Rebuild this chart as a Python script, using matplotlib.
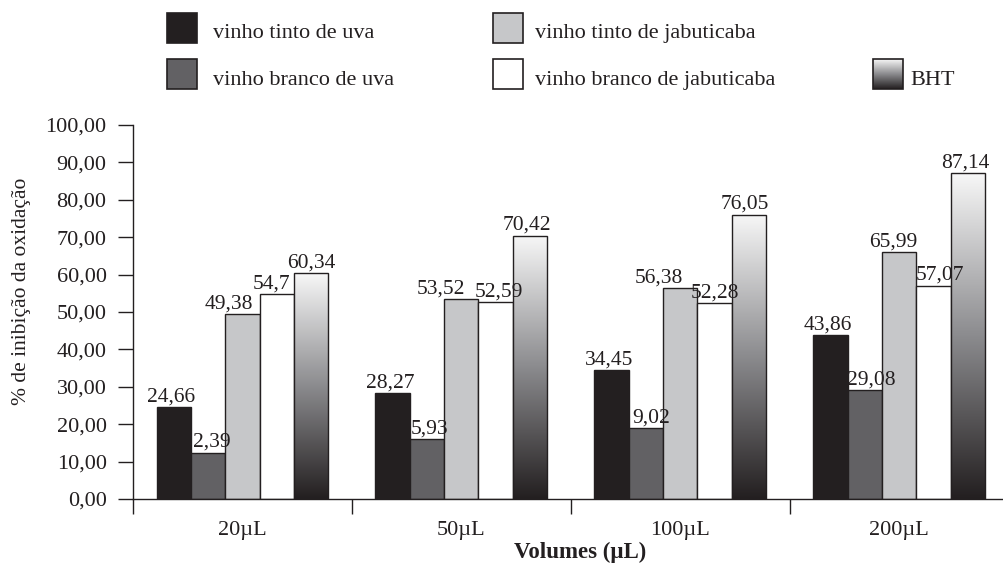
import numpy as np
import matplotlib
matplotlib.use('Agg')
import matplotlib.pyplot as plt
from matplotlib.colors import LinearSegmentedColormap
from matplotlib.patches import Rectangle

plt.rcParams['font.family'] = ['Liberation Serif', 'DejaVu Serif']

volumes = ['20µL', '50µL', '100µL', '200µL']
series_names = ['vinho tinto de uva', 'vinho branco de uva', 'vinho tinto de jabuticaba',
                'vinho branco de jabuticaba', 'BHT']

tinto_uva = [24.66, 28.27, 34.45, 43.86]
branco_uva = [12.39, 15.93, 19.02, 29.08]          # bar heights as drawn
branco_uva_labels = ['2,39', '5,93', '9,02', '29,08']  # labels as printed
tinto_jab = [49.38, 53.52, 56.38, 65.99]
branco_jab = [54.7, 52.59, 52.28, 57.07]
bht = [60.34, 70.42, 76.05, 87.14]

ink = '#231f20'
colors = [ink, '#626164', '#c6c7c9', '#ffffff', None]
grad = LinearSegmentedColormap.from_list('bht', ['#231f20', '#8b8b8e', '#f7f7f7'])
# horizontal nudge of the value labels (points), as placed in the original
nudge = [[-2, -2, -2, -2], [3, 2, 4, 5], [-10, -15, -15, -4], [-4, 2, 0, 5], [0, -2, -3, -2]]


def fmt(v):
    return ('%g' % v).replace('.', ',')


fig = plt.figure(figsize=(10.04, 5.65), dpi=100)
ax = fig.add_axes([133 / 1004, 1 - 499 / 565, (1008.5 - 133) / 1004, (499 - 125) / 565])

data = [tinto_uva, branco_uva, tinto_jab, branco_jab, bht]
labels = [[fmt(v) for v in tinto_uva], branco_uva_labels,
          [fmt(v) for v in tinto_jab], [fmt(v) for v in branco_jab],
          [fmt(v) for v in bht]]

x = np.arange(len(volumes))
w = 0.157
for i, (vals, labs) in enumerate(zip(data, labels)):
    pos = x + (i - 2) * w
    if colors[i] is None:
        bars = ax.bar(pos, vals, w, facecolor='none', edgecolor=ink, linewidth=1.0, zorder=3)
        for b in bars:
            x0, h = b.get_x(), b.get_height()
            im = ax.imshow(np.linspace(0, 1, 256).reshape(-1, 1), cmap=grad, aspect='auto',
                           origin='lower', extent=(x0, x0 + w, 0, h), zorder=2)
            im.set_clip_path(b)
    else:
        bars = ax.bar(pos, vals, w, color=colors[i], edgecolor=ink, linewidth=1.0, zorder=2)
    for j, (b, t) in enumerate(zip(bars, labs)):
        ax.annotate(t, (b.get_x() + w / 2, b.get_height()), xytext=(nudge[i][j], 0.5),
                    textcoords='offset points', ha='center', va='bottom',
                    fontsize=15.5, color=ink, zorder=4)

ax.set_xlim(-0.5, 3.5)
ax.set_ylim(0, 100)
ax.set_yticks(np.arange(0, 101, 10))
ax.set_yticklabels([('%.2f' % v).replace('.', ',') for v in np.arange(0, 101, 10)])
ax.set_xticks(x)
ax.set_xticklabels(volumes)
ax.set_xticks(np.arange(-0.5, 3.6, 1), minor=True)
ax.tick_params(axis='x', which='major', length=0, pad=16, labelsize=16, colors=ink)
ax.tick_params(axis='x', which='minor', length=11, width=1.0, color=ink, direction='out')
ax.tick_params(axis='y', length=11, width=1.0, pad=8, labelsize=16, colors=ink)
for s in ['top', 'right']:
    ax.spines[s].set_visible(False)
for s in ['left', 'bottom']:
    ax.spines[s].set_color(ink)
    ax.spines[s].set_linewidth(1.0)

fig.text(22 / 1004, 1 - 291 / 565, '% de inibição da oxidação', rotation=90,
         ha='center', va='center', fontsize=15.5, color=ink)
fig.text(580 / 1004, 1 - 552 / 565, 'Volumes (µL)', ha='center', va='center',
         fontsize=16.5, fontweight='bold', color=ink)

# legend drawn in figure pixel space
lg = fig.add_axes([0, 0, 1, 1], zorder=5)
lg.set_xlim(0, 1004)
lg.set_ylim(565, 0)
lg.axis('off')
spots = [(167, 13, 213, 38), (167, 59, 213, 85), (493, 13, 535, 38),
         (493, 59, 535, 85), (873, 59, 910, 85)]
for i, (sx, sy, tx, ty) in enumerate(spots):
    if colors[i] is None:
        lg.imshow(np.linspace(0, 1, 256).reshape(-1, 1), cmap=grad, aspect='auto',
                  origin='lower', extent=(sx, sx + 30, sy + 30, sy))
        lg.add_patch(Rectangle((sx, sy), 30, 30, facecolor='none', edgecolor=ink, linewidth=1.2))
    else:
        lg.add_patch(Rectangle((sx, sy), 30, 30, facecolor=colors[i], edgecolor=ink, linewidth=1.2))
    lg.text(tx, ty, series_names[i], ha='left', va='baseline', fontsize=16, color=ink)
lg.set_xlim(0, 1004)
lg.set_ylim(565, 0)

fig.savefig('out.png', dpi=100)
